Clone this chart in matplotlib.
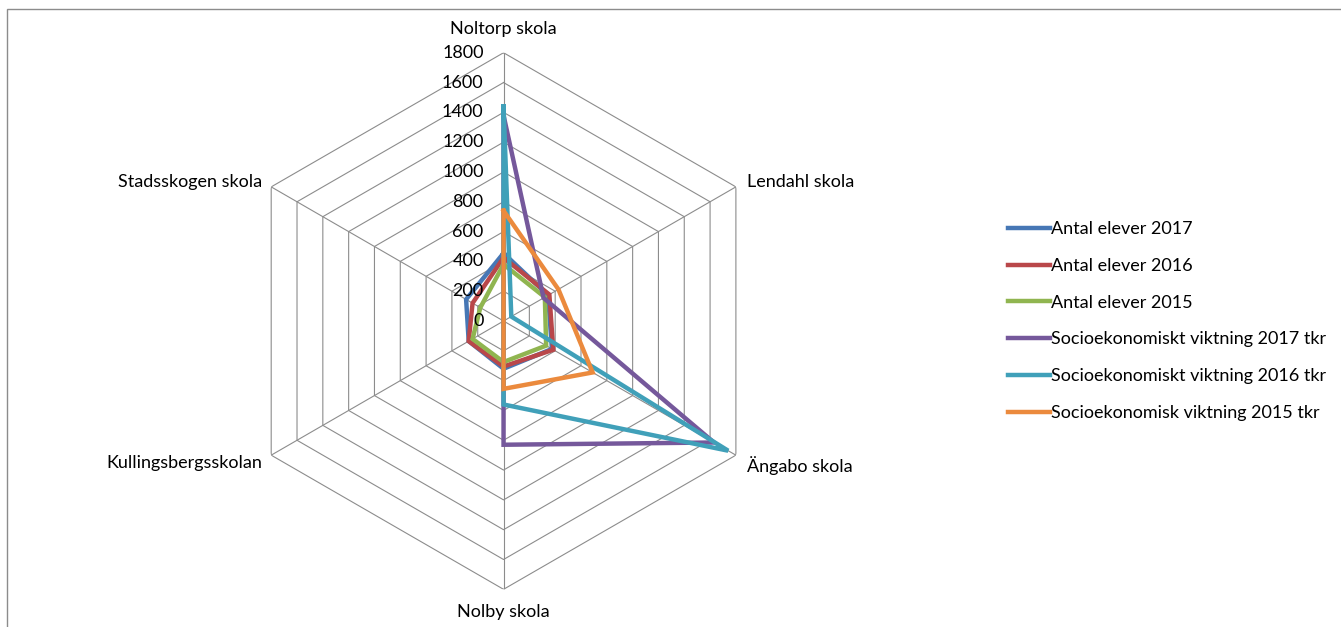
import numpy as np
import matplotlib
matplotlib.use("Agg")
import matplotlib.pyplot as plt
from matplotlib.patches import Rectangle

plt.rcParams["font.family"] = ["Lato", "DejaVu Sans"]

# data

categories = [
    "Noltorp skola",
    "Lendahl skola",
    "Ängabo skola",
    "Nolby skola",
    "Kullingsbergsskolan",
    "Stadsskogen skola"
]

elever_2017 = [455, 345, 375, 320, 270, 290]
elever_2016 = [425, 355, 385, 305, 270, 240]
elever_2015 = [380, 320, 330, 275, 240, 180]
socio_2017 = [1380, 310, 1630, 830, 0, 0]
socio_2016 = [1440, 60, 1740, 560, 0, 0]
socio_2015 = [740, 425, 690, 455, 0, 0]

series_names = [
    "Antal elever 2017",
    "Antal elever 2016",
    "Antal elever 2015",
    "Socioekonomiskt viktning 2017 tkr",
    "Socioekonomiskt viktning 2016 tkr",
    "Socioekonomisk viktning 2015 tkr"
]

series_values = [
    elever_2017, elever_2016, elever_2015,
    socio_2017, socio_2016, socio_2015
]

colors = ["#4677B5", "#B9474A", "#90B550", "#75589B", "#40A0B9", "#EB8A3D"]

r_ticks = list(range(0, 1801, 200))

GRID = "#8C8C8C"
FS = 13

fig = plt.figure(figsize=(13.41, 6.27), dpi=100)

# outer chart frame (only left and top edges are inside the picture)
fig.patches.append(
    Rectangle(
        (7 / 1341, -0.05), 1.1, 1 - 9 / 627 + 0.05,
        transform=fig.transFigure,
        fill=False, edgecolor="#8C8C8C", linewidth=1.0
    )
)

ax = fig.add_axes([0.1754, 0.0601, 0.4002, 0.8558], projection="polar")
ax.set_theta_offset(np.pi / 2)
ax.set_theta_direction(-1)
ax.set_ylim(0, 1800)
ax.grid(False)
ax.spines["polar"].set_visible(False)
ax.set_xticks([])
ax.set_yticks([])
ax.patch.set_visible(False)

n = len(categories)
angles = np.linspace(0, 2 * np.pi, n, endpoint=False)
angles_closed = np.append(angles, angles[0])

# hexagonal grid
for r in r_ticks[1:]:
    ax.plot(angles_closed, [r] * (n + 1), color=GRID, linewidth=0.8, zorder=1)

for a in angles:
    ax.plot([a, a], [0, r_ticks[-1]], color=GRID, linewidth=0.8, zorder=1)

# series
for name, vals, col in zip(series_names, series_values, colors):
    ax.plot(
        angles_closed,
        list(vals) + [vals[0]],
        color=col,
        linewidth=3.2,
        label=name,
        zorder=3,
        solid_joinstyle="miter"
    )

# radial tick labels
for v in r_ticks:
    ax.annotate(
        str(v), xy=(0, v), xytext=(-20, 0),
        textcoords="offset pixels",
        ha="right", va="center", fontsize=FS, zorder=4
    )

# category labels
label_offsets = [
    ((0, 24), "center"),
    ((11, 5), "left"),
    ((11, -10), "left"),
    ((0, -23), "center"),
    ((-9, -8), "right"),
    ((-9, 5), "right"),
]

for a, cat, (off, ha) in zip(angles, categories, label_offsets):
    ax.annotate(
        cat, xy=(a, r_ticks[-1]), xytext=off,
        textcoords="offset pixels",
        ha=ha, va="center", fontsize=FS
    )

handles, labels = ax.get_legend_handles_labels()
fig.legend(
    handles, labels,
    loc="center left",
    bbox_to_anchor=(1008 / 1341, 0.488),
    frameon=False,
    fontsize=FS,
    handlelength=2.3,
    handletextpad=0.1,
    labelspacing=1.15,
    borderpad=0,
    borderaxespad=0
)

fig.savefig("out.png", dpi=100)
